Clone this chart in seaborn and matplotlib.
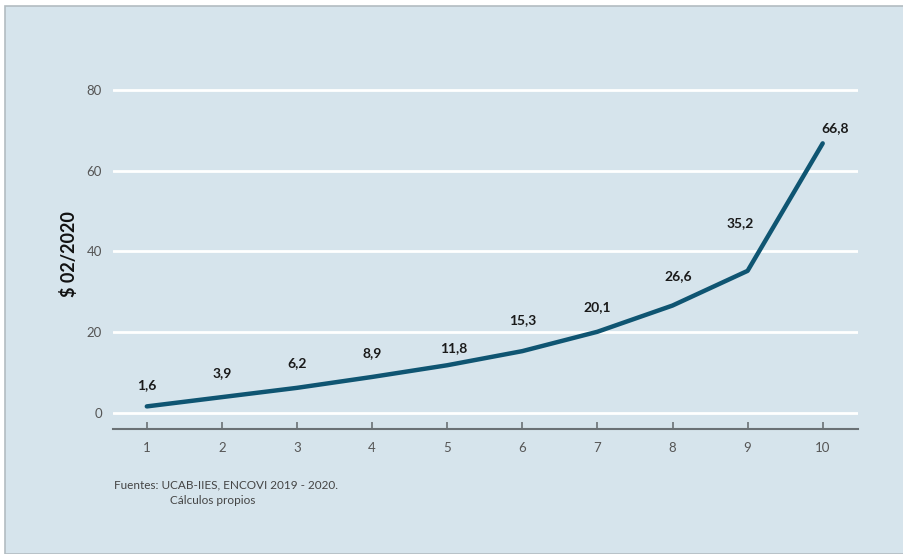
import matplotlib
matplotlib.use("Agg")
import matplotlib.pyplot as plt
from matplotlib.patches import Rectangle
import seaborn as sns
import pandas as pd

# Income per capita by decile, in dollars of Feb 2020
deciles = [1, 2, 3, 4, 5, 6, 7, 8, 9, 10]
ingreso = [1.6, 3.9, 6.2, 8.9, 11.8, 15.3, 20.1, 26.6, 35.2, 66.8]
y_ticks = [0, 20, 40, 60, 80]
# label offsets (pixels) relative to each point
label_dx = [0, 0, 0, 0, 7, 0, 0, 6, -7, 12]
label_dy = [21, 24, 25, 24, 17, 31, 25, 29, 48, 15]

df = pd.DataFrame({"decil": deciles, "ingreso": ingreso})

sns.set_theme(style="white")
plt.rcParams["font.family"] = ["Lato", "DejaVu Sans"]

panel_color = "#d6e4ec"
fig = plt.figure(figsize=(9.04, 5.54), dpi=100, facecolor="white")
panel = Rectangle((5 / 904, 0), 1 - 5 / 904, (554 - 6) / 554,
                  transform=fig.transFigure, facecolor=panel_color,
                  edgecolor="#b3bcc1", linewidth=1.2, zorder=-10)
fig.patches.append(panel)

ax = fig.add_axes([113 / 904, 1 - 429 / 554, (858 - 113) / 904, (429 - 80) / 554])
ax.set_zorder(1)
ax.patch.set_alpha(0)

for t in y_ticks:
    ax.axhline(t, color="white", linewidth=2, zorder=1)

sns.lineplot(data=df, x="decil", y="ingreso", ax=ax, color="#0f5572",
             linewidth=3.2, zorder=3)

for x, v, dx, dy in zip(deciles, ingreso, label_dx, label_dy):
    ax.annotate(f"{v:.1f}".replace(".", ","), (x, v), xytext=(dx, dy),
                textcoords="offset pixels", ha="center", va="center",
                fontsize=10, fontweight="bold", color="#1a1a1a", zorder=4)

ax.set_xlim(0.55, 10.47)
ax.set_ylim(-4, 82.5)
ax.set_xticks(deciles)
ax.set_yticks(y_ticks)
ax.tick_params(axis="x", direction="in", length=5, width=1.2, color="#6a7175",
               labelsize=9.5, labelcolor="#555555", pad=9, bottom=True)
ax.tick_params(axis="y", length=0, labelsize=9.5, labelcolor="#555555", pad=8)

for side in ["top", "right", "left"]:
    ax.spines[side].set_visible(False)
ax.spines["bottom"].set_color("#6a7175")
ax.spines["bottom"].set_linewidth(1.5)

ax.set_xlabel("")
ax.set_ylabel("$ 02/2020", fontsize=13, fontweight="bold", color="#111111",
              labelpad=6)

fig.text(114 / 904, 1 - 485 / 554, "Fuentes: UCAB-IIES, ENCOVI 2019 - 2020.",
         fontsize=8.5, color="#444444", va="center", ha="left")
fig.text(170 / 904, 1 - 500 / 554, "Cálculos propios",
         fontsize=8.5, color="#444444", va="center", ha="left")

fig.savefig("out.png", dpi=100, facecolor="white")
